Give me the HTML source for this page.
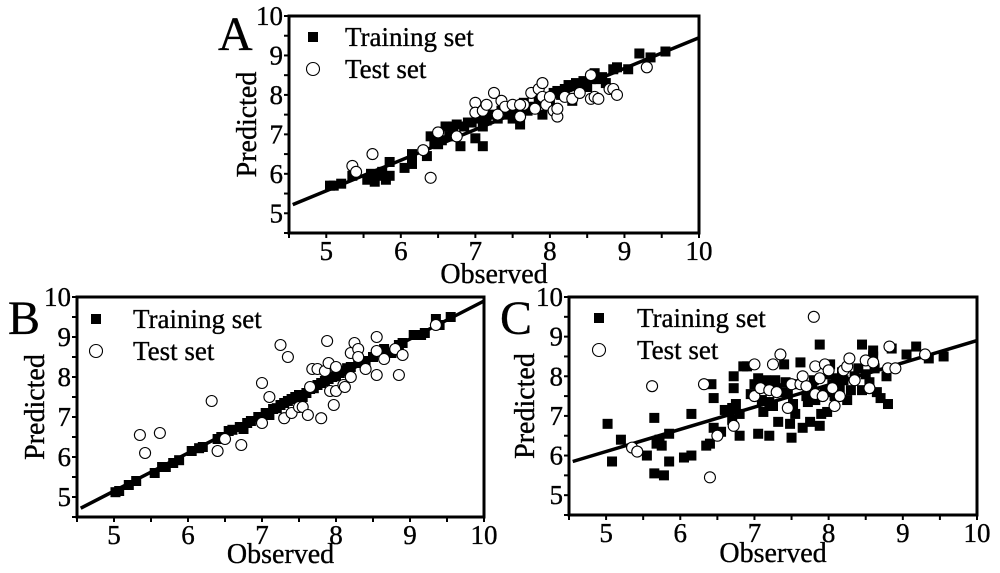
<!DOCTYPE html>
<html><head><meta charset="utf-8"><style>
html,body{margin:0;padding:0;background:#fff;}
svg{display:block;font-family:"Liberation Serif",serif;}
text{stroke:#000;stroke-width:0.35;}
</style></head><body>
<svg id="chart" width="1000" height="573" viewBox="0 0 1000 573"></svg>
<script>
const NS="http://www.w3.org/2000/svg";
const svg=document.getElementById('chart');
const ticks=[5,6,7,8,9,10];
const minorTicks=[4.5,5,5.5,6,6.5,7,7.5,8,8.5,9,9.5,10];
const trainA=[[5.05,5.7],[5.1,5.7],[5.2,5.75],[5.35,5.95],[5.55,5.85],[5.6,6.0],[5.65,5.8],[5.7,5.95],[5.75,6.05],[5.8,5.85],[5.85,6.3],[5.85,5.95],[6.05,6.15],[6.15,6.5],[6.15,6.25],[6.35,6.45],[6.4,6.95],[6.45,6.8],[6.5,6.75],[6.55,6.85],[6.6,7.2],[6.65,6.95],[6.7,7.2],[6.75,7.25],[6.8,6.7],[6.85,7.2],[6.9,7.3],[6.95,7.3],[7.0,6.9],[7.05,7.4],[7.1,6.7],[7.1,7.2],[7.15,7.35],[7.2,7.5],[7.3,7.4],[7.35,7.6],[7.45,7.5],[7.5,7.4],[7.55,7.6],[7.6,7.25],[7.65,7.8],[7.7,7.6],[7.75,7.7],[7.8,7.65],[7.85,7.85],[7.9,7.5],[7.95,7.95],[8.0,7.8],[8.05,8.05],[8.1,8.1],[8.15,8.0],[8.2,8.15],[8.25,8.25],[8.3,7.85],[8.35,8.3],[8.4,8.2],[8.45,8.35],[8.5,8.2],[8.55,8.4],[8.6,8.55],[8.65,8.4],[8.7,8.45],[8.75,8.3],[8.85,8.65],[8.9,8.7],[9.05,8.65],[9.2,9.05],[9.35,8.95],[9.55,9.1]];
const testA=[[5.35,6.2],[5.4,6.05],[5.62,6.5],[6.3,6.6],[6.4,5.9],[6.5,7.05],[6.75,6.95],[7.0,7.8],[7.0,7.55],[7.1,7.6],[7.15,7.75],[7.25,8.05],[7.3,7.5],[7.35,7.85],[7.4,7.7],[7.5,7.75],[7.6,7.45],[7.65,7.75],[7.75,8.05],[7.8,7.65],[7.85,8.15],[7.9,8.3],[7.9,7.95],[7.95,7.75],[8.0,7.95],[8.05,7.6],[8.1,7.45],[8.1,7.65],[8.2,7.95],[8.3,7.9],[8.4,8.05],[8.55,8.5],[8.55,7.9],[8.6,7.95],[8.65,7.9],[8.8,8.15],[8.85,8.15],[8.9,8.0],[9.3,8.7],[7.6,7.75]];
const trainB=[[5.02,5.12],[5.07,5.15],[5.2,5.3],[5.3,5.4],[5.55,5.6],[5.65,5.75],[5.7,5.75],[5.8,5.85],[5.88,5.92],[6.05,6.15],[6.15,6.22],[6.2,6.25],[6.4,6.45],[6.45,6.5],[6.55,6.65],[6.6,6.68],[6.7,6.75],[6.75,6.7],[6.8,6.85],[6.85,6.9],[6.95,7.0],[7.05,7.1],[7.1,7.05],[7.15,7.2],[7.2,7.22],[7.25,7.3],[7.3,7.35],[7.35,7.4],[7.4,7.45],[7.45,7.5],[7.5,7.55],[7.55,7.5],[7.6,7.6],[7.65,7.7],[7.7,7.72],[7.75,7.8],[7.8,7.85],[7.85,7.9],[7.9,7.95],[7.95,8.0],[8.0,8.02],[8.05,8.1],[8.1,8.15],[8.15,8.22],[8.2,8.25],[8.3,8.35],[8.4,8.4],[8.5,8.5],[8.6,8.62],[8.65,8.7],[8.75,8.6],[8.85,8.8],[8.9,8.85],[9.05,9.05],[9.15,9.05],[9.2,9.1],[9.35,9.45],[9.55,9.5],[9.4,9.3]];
const testB=[[5.35,6.55],[5.42,6.1],[5.62,6.6],[6.32,7.4],[6.4,6.15],[6.5,6.45],[6.72,6.3],[7.0,7.85],[7.0,6.85],[7.1,7.5],[7.25,8.8],[7.3,6.97],[7.35,8.5],[7.4,7.1],[7.5,7.25],[7.55,7.25],[7.62,7.05],[7.65,7.75],[7.68,8.2],[7.75,8.2],[7.8,6.97],[7.85,8.15],[7.88,8.9],[7.9,8.35],[7.92,7.65],[7.97,7.3],[8.0,8.25],[8.0,7.65],[8.1,7.8],[8.12,7.75],[8.2,8.0],[8.2,8.6],[8.25,8.85],[8.3,8.7],[8.3,8.5],[8.4,8.2],[8.55,9.0],[8.55,8.65],[8.55,8.05],[8.65,8.45],[8.8,8.7],[8.85,8.05],[8.9,8.55],[9.35,9.3]];
const trainC=[[5.02,6.8],[5.08,5.85],[5.2,6.4],[5.55,6.0],[5.65,6.95],[5.65,5.55],[5.68,6.3],[5.72,6.4],[5.75,6.25],[5.78,5.5],[5.85,6.55],[5.85,5.85],[6.05,5.95],[6.15,7.05],[6.15,6.0],[6.35,6.25],[6.4,6.3],[6.42,7.8],[6.45,7.45],[6.45,6.7],[6.55,6.6],[6.6,7.15],[6.7,7.2],[6.7,6.9],[6.72,7.7],[6.72,8.0],[6.75,7.3],[6.8,6.5],[6.8,7.05],[6.85,8.25],[6.9,8.25],[6.95,7.55],[7.0,7.8],[7.05,6.55],[7.05,7.95],[7.1,7.4],[7.12,7.1],[7.15,7.9],[7.2,7.35],[7.2,6.5],[7.22,7.8],[7.25,7.25],[7.28,7.9],[7.3,7.7],[7.32,6.85],[7.38,7.6],[7.4,8.3],[7.42,7.85],[7.45,7.55],[7.48,6.8],[7.5,6.45],[7.52,7.3],[7.55,7.05],[7.58,7.8],[7.62,8.35],[7.65,6.7],[7.7,7.5],[7.72,7.35],[7.75,6.85],[7.78,7.7],[7.8,7.9],[7.82,7.4],[7.88,6.75],[7.88,8.8],[7.9,7.05],[7.95,7.6],[7.98,7.1],[8.0,8.05],[8.02,8.3],[8.05,7.8],[8.08,7.5],[8.1,7.95],[8.15,7.7],[8.18,8.1],[8.2,7.9],[8.25,7.4],[8.3,7.65],[8.35,8.0],[8.4,8.2],[8.45,7.65],[8.45,8.8],[8.5,8.05],[8.55,7.85],[8.6,8.65],[8.62,8.2],[8.65,7.6],[8.7,7.45],[8.78,8.0],[8.8,7.3],[8.85,8.7],[9.05,8.55],[9.18,8.75],[9.35,8.45],[9.55,8.5],[8.6,8.5]];
const testC=[[5.35,6.2],[5.42,6.1],[5.62,7.75],[6.32,7.8],[6.4,5.45],[6.5,6.5],[6.72,6.75],[7.0,8.3],[7.0,7.5],[7.08,7.7],[7.2,7.65],[7.25,8.3],[7.3,7.6],[7.35,8.55],[7.45,7.2],[7.5,7.8],[7.62,7.8],[7.65,8.0],[7.7,7.75],[7.8,9.5],[7.82,8.25],[7.82,7.55],[7.88,7.95],[7.92,7.5],[7.95,8.3],[8.0,8.15],[8.05,7.7],[8.08,7.25],[8.15,7.5],[8.2,8.15],[8.25,8.25],[8.28,8.45],[8.35,7.9],[8.5,8.4],[8.55,7.7],[8.6,8.35],[8.8,8.2],[8.82,8.75],[8.9,8.2],[9.3,8.55]];
const fitA=[[4.55,5.22],[10,9.45]];
const fitB=[[4.55,4.72],[10,9.9]];
const fitC=[[4.55,5.85],[10,8.9]];

function el(tag,attrs,parent){const e=document.createElementNS(NS,tag);for(const k in attrs)e.setAttribute(k,attrs[k]);(parent||svg).appendChild(e);return e;}
function txt(s,attrs,parent){const e=el('text',attrs,parent);e.textContent=s;return e;}

function panel(cfg){
  const g=el('g',{});
  
  
  const L=cfg.l,R=cfg.r,T=cfg.t,B=cfg.b;
  const sx=v=>L+(v-4.5)/(5.5)*(R-L);
  const sy=v=>B-(v-4.5)/(5.5)*(B-T);
  minorTicks.forEach(v=>{
    const tx=el('line',{x1:sx(v),x2:sx(v),y1:B,y2:B+5,stroke:'#000','stroke-width':2},g);
    
    
    const ty=el('line',{x1:L-5,x2:L,y1:sy(v),y2:sy(v),stroke:'#000','stroke-width':2},g);
    
    
  });
  ticks.forEach(v=>{
    const a=txt(String(v),{x:sx(v),y:B+27,'text-anchor':'middle','font-size':27},g);
    
    
    const b=txt(String(v),{x:L-6,y:sy(v)+9,'text-anchor':'end','font-size':27},g);
    
    
  });
  const fl=el('line',{x1:sx(cfg.fit[0][0]),y1:sy(cfg.fit[0][1]),x2:sx(cfg.fit[1][0]),y2:sy(cfg.fit[1][1]),stroke:'#000','stroke-width':3.5},g);
  
  
  cfg.train.forEach(p=>{
    const r=el('rect',{x:sx(p[0])-5,y:sy(p[1])-5,width:10,height:10,fill:'#000'},g);
    
    
  });
  cfg.test.forEach(p=>{
    const c=el('circle',{cx:sx(p[0]),cy:sy(p[1]),r:5.5,fill:'#fff',stroke:'#000','stroke-width':1.1},g);
    
    
  });
  const box=el('rect',{x:L,y:T,width:R-L,height:B-T,fill:'none',stroke:'#000','stroke-width':3},g);
  
  
  const lg=el('g',{},g);
  
  
  const ls=el('rect',{x:cfg.lx-5,y:cfg.ly-5,width:10,height:10,fill:'#000'},lg);
  
  
  const lt1=txt('Training set',{x:cfg.tx,y:cfg.ly+9,'font-size':27},lg);
  
  
  const lc=el('circle',{cx:cfg.lx,cy:cfg.ly+32,r:6.5,fill:'#fff',stroke:'#000','stroke-width':1.1},lg);
  
  
  const lt2=txt(cfg.testLabel,{x:cfg.tx,y:cfg.ly+41,'font-size':27},lg);
  
  
  const xt=txt('Observed',{x:(L+R)/2,y:B+cfg.xo,'text-anchor':'middle','font-size':28},g);
  
  
  const yx=cfg.ytx,yy=(T+B)/2;
  const yt=txt('Predicted',{x:yx,y:yy,'text-anchor':'middle','font-size':28,transform:'rotate(-90 '+yx+' '+yy+')'},g);
  
  
  const pl=txt(cfg.id,{x:cfg.px,y:cfg.py,'font-size':48},g);
  
  
}
panel({id:'A',l:289,r:699,t:16,b:233,train:trainA,test:testA,fit:fitA,lx:313,ly:37,tx:345,testLabel:' Test set',ytx:256,px:218,py:50,xo:50});
panel({id:'B',l:77,r:484,t:297,b:517,train:trainB,test:testB,fit:fitB,lx:96,ly:319,tx:133,testLabel:'Test set',ytx:44,px:8,py:334,xo:46});
panel({id:'C',l:569,r:977,t:297,b:515,train:trainC,test:testC,fit:fitC,lx:599,ly:318,tx:637,testLabel:'Test set',ytx:534,px:500,py:334,xo:47});
</script>
</body></html>
